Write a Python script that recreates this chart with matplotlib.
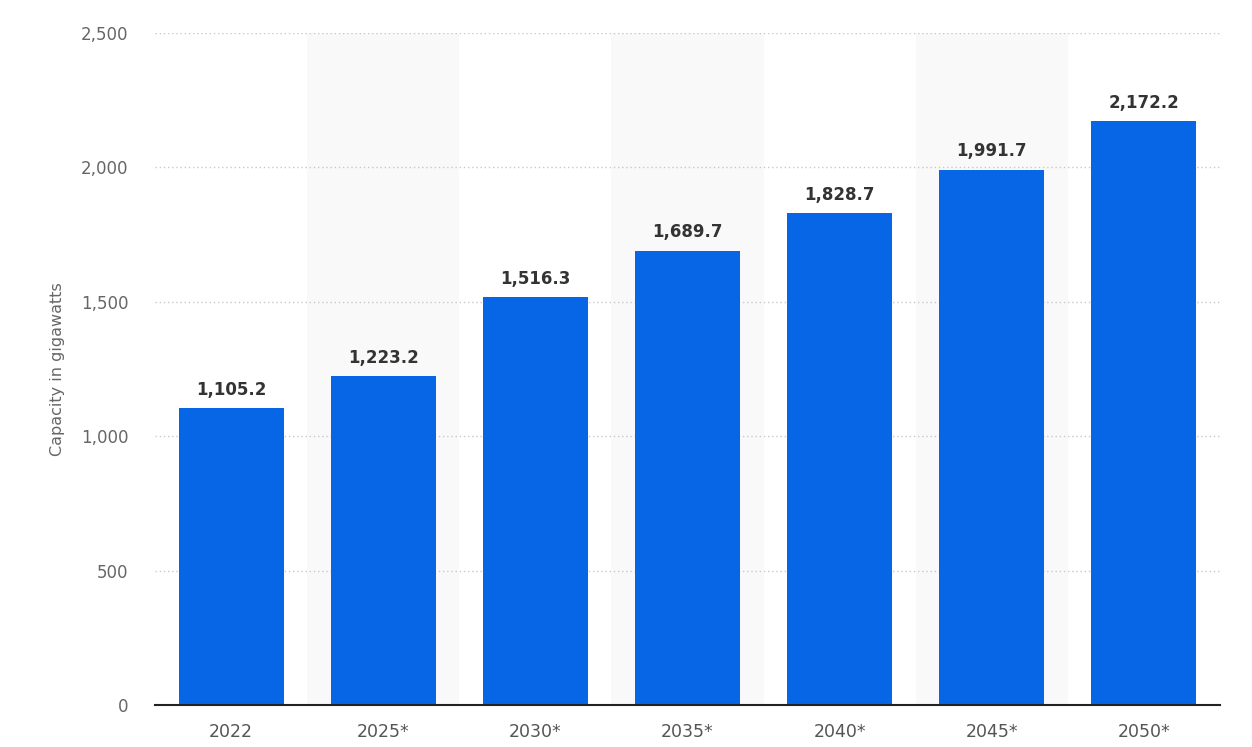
import matplotlib
matplotlib.use("Agg")
import matplotlib.pyplot as plt
from matplotlib.ticker import FuncFormatter

categories = ["2022", "2025*", "2030*", "2035*", "2040*", "2045*", "2050*"]
values = [1105.2, 1223.2, 1516.3, 1689.7, 1828.7, 1991.7, 2172.2]
yticks = [0, 500, 1000, 1500, 2000, 2500]

plt.rcParams['font.family'] = ['DejaVu Sans']

fig = plt.figure(figsize=(12.52, 7.47), dpi=100)
ax = fig.add_axes([155/1252, 42/747, 1065/1252, 672/747])

x = list(range(len(categories)))
for i in x:
    if i % 2 == 1:
        ax.axvspan(i - 0.5, i + 0.5, color="#f9f9f9", zorder=0, lw=0)

ax.bar(x, values, width=0.69, color="#0766e5", zorder=3)
for xi, v in zip(x, values):
    ax.text(xi, v + 35, f"{v:,.1f}", ha="center", va="bottom",
            fontsize=12, fontweight="bold", color="#333333", zorder=4)

ax.set_xlim(-0.5, len(categories) - 0.5)
ax.set_ylim(0, 2500)
ax.set_yticks(yticks)
ax.yaxis.set_major_formatter(FuncFormatter(lambda v, p: f"{int(v):,}"))
ax.set_xticks(x)
ax.set_xticklabels(categories)
ax.grid(axis="y", linestyle=(0, (1, 2)), color="#c8c8c8", linewidth=1, zorder=1)
ax.set_axisbelow(True)

for s in ["top", "right", "left"]:
    ax.spines[s].set_visible(False)
ax.spines["bottom"].set_color("#222222")
ax.spines["bottom"].set_linewidth(1.5)
ax.spines["bottom"].set_zorder(5)

ax.tick_params(axis="y", length=0, pad=19, labelsize=12, labelcolor="#666666")
ax.tick_params(axis="x", length=0, pad=13, labelsize=12.5, labelcolor="#555555")

ax.set_ylabel("Capacity in gigawatts", fontsize=11.5, color="#666666")
ax.yaxis.set_label_coords(-0.0845, 0.5)

fig.savefig("out.png", dpi=100, facecolor="white")
